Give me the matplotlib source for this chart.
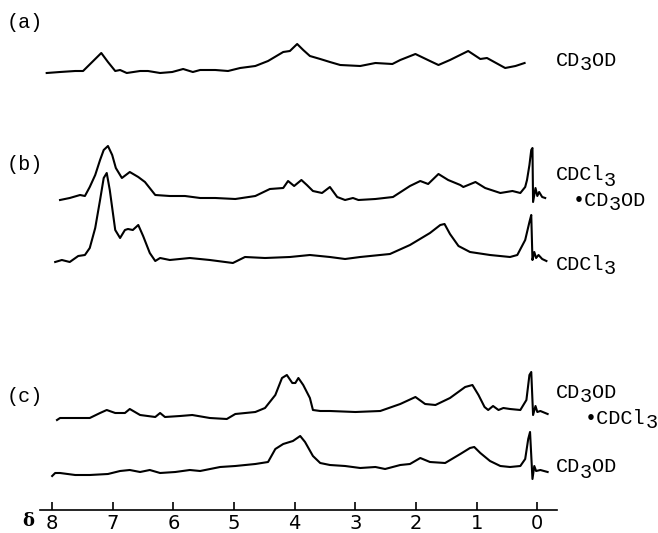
import numpy as np
import matplotlib.pyplot as plt

# chemical shift (ppm) and trace height above its own baseline
a_ppm = [8.09, 7.87, 7.62, 7.49, 7.34, 7.19, 7.08, 6.96, 6.88, 6.77, 6.55, 6.42, 6.22, 6.02, 5.84,
         5.68, 5.56, 5.31, 5.10, 4.90, 4.65, 4.44, 4.19, 4.08, 3.96, 3.86, 3.75, 3.58, 3.42, 3.25,
         2.92, 2.67, 2.39, 2.26, 2.01, 1.77, 1.63, 1.44, 1.14, 0.94, 0.83, 0.53, 0.36, 0.21]
a_cd3od = [-1, 0, 1, 1, 10, 19, 10, 1, 2, -1, 1, 1, -1, 0, 3,
           0, 2, 2, 1, 4, 6, 11, 20, 21, 28, 22, 16, 13, 10, 7,
           6, 9, 8, 12, 18, 11, 7, 12, 21, 13, 14, 4, 6, 9]

b1_ppm = [7.87, 7.71, 7.54, 7.46, 7.38, 7.29, 7.21, 7.15, 7.08, 7.01, 6.95, 6.85, 6.72, 6.58, 6.47,
          6.30, 6.06, 5.81, 5.56, 5.31, 4.98, 4.65, 4.41, 4.19, 4.11, 4.01, 3.89, 3.80, 3.70, 3.55,
          3.42, 3.30, 3.17, 3.04, 2.95, 2.67, 2.38, 2.10, 1.93, 1.80, 1.63, 1.47, 1.27, 1.22, 1.02,
          0.86, 0.61, 0.41, 0.28, 0.20, 0.17, 0.13, 0.10, 0.08, 0.07, 0.03, 0.00, -0.03, -0.08, -0.13]
b1_mixed = [-2, 0, 3, 2, 11, 23, 38, 48, 52, 43, 30, 20, 26, 21, 16,
            3, 2, 2, 0, 0, -1, 2, 9, 10, 17, 12, 18, 13, 7, 5,
            11, 1, -2, 0, -2, -1, 1, 12, 17, 14, 24, 18, 13, 11, 16,
            10, 5, 7, 5, 11, 18, 33, 48, 50, -4, 10, 2, 6, 1, 0]

b2_ppm = [7.95, 7.84, 7.71, 7.57, 7.46, 7.38, 7.29, 7.21, 7.15, 7.10, 7.05, 6.96, 6.88, 6.80, 6.75,
          6.67, 6.58, 6.50, 6.39, 6.30, 6.22, 6.06, 5.73, 5.40, 5.02, 4.82, 4.49, 4.08, 3.75, 3.42,
          3.17, 2.92, 2.43, 2.10, 1.77, 1.60, 1.53, 1.44, 1.30, 1.11, 0.78, 0.45, 0.33, 0.20, 0.13,
          0.10, 0.08, 0.05, 0.02, -0.02, -0.08, -0.15]
b2_cdcl3 = [-4, -2, -4, 2, 3, 10, 30, 58, 80, 85, 68, 28, 20, 28, 29,
            28, 33, 22, 5, -3, 0, -2, 0, -2, -5, 1, 0, 1, 3, 1,
            -1, 1, 4, 13, 25, 33, 34, 24, 12, 6, 3, 1, 3, 18, 36,
            43, -2, 6, 0, 3, -1, -3]

c1_ppm = [7.92, 7.87, 7.62, 7.38, 7.21, 7.10, 6.96, 6.80, 6.72, 6.55, 6.30, 6.22, 6.14, 5.89, 5.69,
          5.40, 5.12, 4.98, 4.65, 4.49, 4.32, 4.21, 4.13, 4.04, 3.99, 3.94, 3.86, 3.75, 3.70, 3.58,
          3.42, 3.00, 2.59, 2.26, 2.01, 1.85, 1.68, 1.44, 1.19, 1.07, 0.97, 0.87, 0.81, 0.73, 0.64,
          0.56, 0.45, 0.28, 0.18, 0.13, 0.10, 0.07, 0.03, 0.00, -0.05, -0.17]
c1_mixed = [-4, -2, -2, -2, 3, 6, 3, 3, 7, 1, -1, 3, -1, 0, 1,
            -2, -3, 2, 4, 8, 21, 38, 41, 33, 33, 38, 31, 18, 6, 5,
            5, 4, 5, 12, 19, 12, 11, 18, 29, 31, 21, 9, 6, 10, 6,
            8, 7, 6, 16, 41, 44, 1, 10, 4, 5, 2]

c2_ppm = [8.00, 7.95, 7.87, 7.62, 7.38, 7.08, 6.88, 6.72, 6.55, 6.39, 6.22, 5.97, 5.73, 5.56, 5.23,
          4.98, 4.65, 4.44, 4.32, 4.19, 4.03, 3.91, 3.83, 3.70, 3.58, 3.42, 3.17, 2.92, 2.67, 2.51,
          2.26, 2.10, 1.93, 1.77, 1.52, 1.27, 1.11, 1.04, 0.94, 0.78, 0.61, 0.45, 0.28, 0.20, 0.15,
          0.12, 0.08, 0.05, 0.02, -0.05, -0.17]
c2_cd3od = [-5, -2, -2, -4, -4, -3, 0, 1, -1, 1, -2, -1, 1, 0, 4,
            5, 7, 9, 22, 27, 30, 35, 29, 15, 8, 6, 5, 3, 4, 2,
            6, 7, 13, 9, 8, 17, 23, 24, 18, 10, 5, 4, 5, 12, 32,
            39, -8, 5, 0, 1, -1]

ticks = [8, 7, 6, 5, 4, 3, 2, 1, 0]

fig = plt.figure(figsize=(6.58, 5.33), dpi=100)
ax = fig.add_axes([0, 0, 1, 1])
ax.set_xlim(8.86, -1.99)
ax.set_ylim(0, 533)

traces = [(a_ppm, a_cd3od, 461), (b1_ppm, b1_mixed, 335), (b2_ppm, b2_cdcl3, 275),
          (c1_ppm, c1_mixed, 117), (c2_ppm, c2_cd3od, 62)]
for xs, ys, base in traces:
    ax.plot(xs, np.array(ys) + base, color='black', lw=1.5, solid_joinstyle='round')

for s in ['left', 'right', 'top']:
    ax.spines[s].set_visible(False)
ax.spines['bottom'].set_position(('data', 23))
ax.spines['bottom'].set_bounds(8.2, -0.33)
ax.spines['bottom'].set_linewidth(1.2)
ax.set_yticks([])
ax.set_xticks(ticks)
ax.set_xticklabels([str(t) for t in ticks])
ax.tick_params(axis='x', direction='in', length=6, width=1.2, pad=3, labelsize=14)

mono = 'Liberation Mono'
fs = 14.5


def tag(x, y, parts):
    # typewriter label: each part is (text, lowered?)
    n = 0
    for txt, low in parts:
        dy = -3.6 if low else 0
        ax.annotate(txt, (x, y), xytext=(n * 0.6 * fs, dy), textcoords='offset points',
                    family=mono, fontsize=fs, ha='left', va='center')
        n += len(txt)


tag(8.75, 510, [('(a)', False)])
tag(8.75, 368, [('(b)', False)])
tag(8.75, 137, [('(c)', False)])

tag(-0.30, 473, [('CD', False), ('3', True), ('OD', False)])
tag(-0.30, 358, [('CDCl', False), ('3', True)])
tag(-0.58, 333, [('•CD', False), ('3', True), ('OD', False)])
tag(-0.30, 269, [('CDCl', False), ('3', True)])
tag(-0.30, 141, [('CD', False), ('3', True), ('OD', False)])
tag(-0.79, 115, [('•CDCl', False), ('3', True)])
tag(-0.30, 66, [('CD', False), ('3', True), ('OD', False)])

ax.text(8.40, 12, 'δ', fontsize=13, fontweight='bold', family='DejaVu Serif', ha='center', va='center')

fig.savefig('out.png', dpi=100)
